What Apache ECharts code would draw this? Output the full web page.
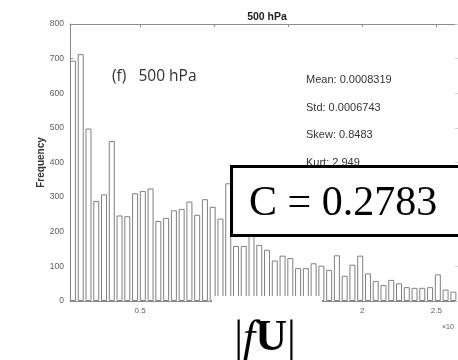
<!DOCTYPE html>
<html>
<head>
<meta charset="utf-8">
<title>500 hPa</title>
<script src="https://cdn.jsdelivr.net/npm/echarts@6/dist/echarts.min.js"></script>
<style>
  html, body { margin: 0; padding: 0; background: #fff; }
  #chart { width: 458px; height: 360px; }
</style>
</head>
<body>
<div id="chart"></div>
<script>
// |fU| histogram at 500 hPa, x in units of 1e-3
const firstCenter = 0.047
const binWidth = 0.0524
const counts = [
  694, 713, 498, 289, 308, 462, 247, 245, 311, 318,
  325, 231, 240, 262, 266, 287, 249, 294, 272, 238,
  340, 159, 159, 200, 162, 148, 117, 131, 124, 95,
  95, 109, 102, 90, 132, 73, 105, 131, 80, 58,
  46, 61, 51, 40, 38, 38, 40, 77, 33, 27
]
const xTicks = [0.5, 1, 1.5, 2, 2.5]
const statLines = ['Mean: 0.0008319', 'Std: 0.0006743', 'Skew: 0.8483', 'Kurt: 2.949']
const panelLabel = '(f)   500 hPa'
const titleText = '500 hPa'
const corrText = 'C = 0.2783'

const axisGray = '#8c8c8c'
const labelGray = '#5c5c5c'

const barData = counts.map((c, i) => [firstCenter + i * binWidth, c])

const chart = echarts.init(document.getElementById('chart'))

const xCommon = {
  type: 'value',
  min: 0.027,
  max: 2.646,
  splitLine: { show: false },
  axisLine: { show: true, onZero: false, lineStyle: { color: axisGray, width: 1 } },
  axisTick: { show: true, inside: true, length: 3, customValues: xTicks, lineStyle: { color: axisGray } }
}

const option = {
  animation: false,
  backgroundColor: '#fff',
  grid: { left: 70, right: -7, top: 24, bottom: 59 },
  xAxis: [
    Object.assign({}, xCommon, {
      position: 'bottom',
      axisLabel: {
        customValues: xTicks,
        margin: 6,
        fontSize: 8,
        fontFamily: 'Liberation Sans',
        color: labelGray,
        formatter: v => String(v)
      }
    }),
    Object.assign({}, xCommon, {
      position: 'top',
      axisLabel: { show: false }
    })
  ],
  yAxis: [
    {
      type: 'value',
      min: 0,
      max: 800,
      interval: 100,
      position: 'left',
      name: 'Frequency',
      nameLocation: 'middle',
      nameGap: 24,
      nameMoveOverlap: false,
      nameTextStyle: { fontSize: 10, fontWeight: 'bold', color: '#333', fontFamily: 'Liberation Sans' },
      splitLine: { show: false },
      axisLine: { show: true, lineStyle: { color: axisGray } },
      axisTick: { show: true, inside: true, length: 3, lineStyle: { color: axisGray } },
      axisLabel: { fontSize: 8.5, margin: 6, color: labelGray, fontFamily: 'Liberation Sans' }
    },
    {
      type: 'value',
      min: 0,
      max: 800,
      interval: 100,
      position: 'right',
      splitLine: { show: false },
      axisLine: { show: true, lineStyle: { color: axisGray } },
      axisTick: { show: true, inside: true, length: 3, lineStyle: { color: '#d0d0d0' } },
      axisLabel: { show: false }
    }
  ],
  series: [
    {
      type: 'bar',
      data: barData,
      barWidth: 6,
      itemStyle: { color: '#fff', borderColor: '#808080', borderWidth: 1 }
    }
  ],
  graphic: [
    {
      type: 'text', x: 267, y: 17, z: 50,
      style: { text: titleText, font: 'bold 10.5px "Liberation Sans"', fill: '#222', textAlign: 'center', textVerticalAlign: 'middle' }
    },
    {
      type: 'text', x: 112, y: 77, z: 50,
      style: { text: panelLabel, font: '15.5px "Open Sans"', fill: '#333', textAlign: 'left', textVerticalAlign: 'middle' }
    },
    ...statLines.map((s, i) => ({
      type: 'text', x: 306, y: 80 + i * 27.6, z: 50,
      style: { text: s, font: '11px "Liberation Sans"', fill: '#333', textAlign: 'left', textVerticalAlign: 'middle' }
    })),
    {
      type: 'text', x: 442, y: 327, z: 50,
      style: { text: '\u00d710', font: '7px "Liberation Sans"', fill: labelGray, textAlign: 'left', textVerticalAlign: 'middle' }
    },
    // pasted correlation box
    {
      type: 'rect', z: 100,
      shape: { x: 231.5, y: 166.5, width: 240, height: 69 },
      style: { fill: '#fff', stroke: '#000', lineWidth: 3 }
    },
    {
      type: 'text', x: 249, y: 204, z: 101,
      style: { text: corrText, font: '42px "Liberation Serif"', fill: '#000', textAlign: 'left', textVerticalAlign: 'middle' }
    },
    // pasted axis label patch
    {
      type: 'rect', z: 100,
      shape: { x: 212, y: 296, width: 110, height: 64 },
      style: { fill: '#fff' }
    },
    {
      type: 'text', x: 265, y: 339, z: 101,
      style: {
        text: '{n||}{i|f}{b|U}{n||}',
        textAlign: 'center',
        textVerticalAlign: 'middle',
        rich: {
          n: { fontFamily: 'Liberation Serif', fontSize: 44, color: '#000' },
          i: { fontFamily: 'Liberation Serif', fontSize: 44, fontStyle: 'italic', color: '#000' },
          b: { fontFamily: 'Liberation Serif', fontSize: 44, fontWeight: 'bold', color: '#000' }
        }
      }
    }
  ]
}

chart.setOption(option)
</script>
</body>
</html>
